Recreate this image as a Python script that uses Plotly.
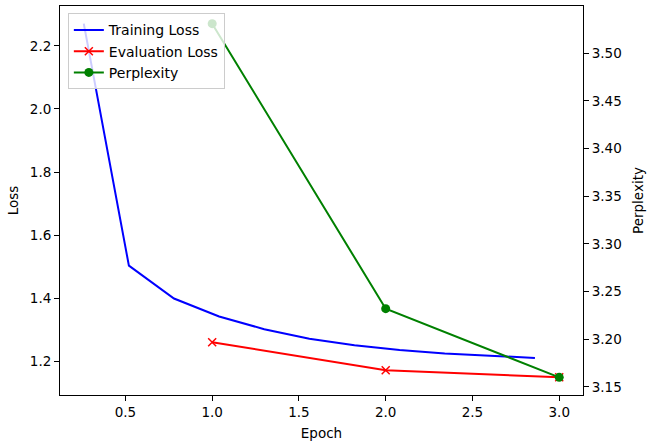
import plotly.graph_objects as go

train_epoch = [0.26, 0.52, 0.78, 1.04, 1.30, 1.56, 1.82, 2.08, 2.34, 2.60, 2.86]
train_loss = [2.27, 1.504, 1.40, 1.343, 1.303, 1.273, 1.252, 1.237, 1.226, 1.218, 1.212]
eval_epoch = [1.0, 2.0, 3.0]
eval_loss = [1.2616, 1.1732, 1.1506]
perplexity = [3.531, 3.232, 3.160]

x_ticks = [0.5, 1.0, 1.5, 2.0, 2.5, 3.0]
loss_ticks = [1.2, 1.4, 1.6, 1.8, 2.0, 2.2]
ppl_ticks = [3.15, 3.20, 3.25, 3.30, 3.35, 3.40, 3.45, 3.50]


def padded(vals, frac=0.05):
    lo, hi = min(vals), max(vals)
    d = (hi - lo) * frac
    return [lo - d, hi + d]


FONT = "DejaVu Sans"
FS = 14
fig = go.Figure()
fig.add_trace(go.Scatter(x=train_epoch, y=train_loss, mode="lines", name="Training Loss",
                         line=dict(color="blue", width=2), yaxis="y"))
fig.add_trace(go.Scatter(x=eval_epoch, y=eval_loss, mode="lines+markers", name="Evaluation Loss",
                         line=dict(color="red", width=2),
                         marker=dict(symbol="x-thin", size=8, line=dict(color="red", width=1.5)),
                         yaxis="y"))
fig.add_trace(go.Scatter(x=eval_epoch, y=perplexity, mode="lines+markers", name="Perplexity",
                         line=dict(color="green", width=2),
                         marker=dict(symbol="circle", size=9, color="green"),
                         yaxis="y2"))

axis_common = dict(showgrid=False, zeroline=False, showline=True, linecolor="black", linewidth=1,
                   ticks="outside", ticklen=5, tickwidth=1, tickcolor="black", automargin=False,
                   tickfont=dict(family=FONT, size=FS - 0.5, color="black"))

fig.update_layout(
    width=647, height=444,
    margin=dict(l=60, r=64, t=6, b=49),
    paper_bgcolor="white", plot_bgcolor="white",
    font=dict(family=FONT, size=FS, color="black"),
    xaxis=dict(range=padded(train_epoch + eval_epoch), tickvals=x_ticks, tickformat=".1f",
               mirror=True, title=dict(text="Epoch", font=dict(size=FS - 0.5), standoff=9), **axis_common),
    yaxis=dict(range=padded(train_loss + eval_loss), tickvals=loss_ticks, tickformat=".1f",
               title=dict(text="Loss", font=dict(size=FS - 0.5), standoff=8), **axis_common),
    yaxis2=dict(range=padded(perplexity), tickvals=ppl_ticks, tickformat=".2f", overlaying="y",
                side="right", title=dict(text="Perplexity", font=dict(size=FS - 0.5), standoff=12),
                **axis_common),
    legend=dict(x=0.015, y=0.981, xanchor="left", yanchor="top",
                bgcolor="rgba(255,255,255,0.8)", bordercolor="#cccccc", borderwidth=1,
                font=dict(family=FONT, size=FS), tracegroupgap=0, itemwidth=30),
    showlegend=True,
)

fig.write_html("out.html")
